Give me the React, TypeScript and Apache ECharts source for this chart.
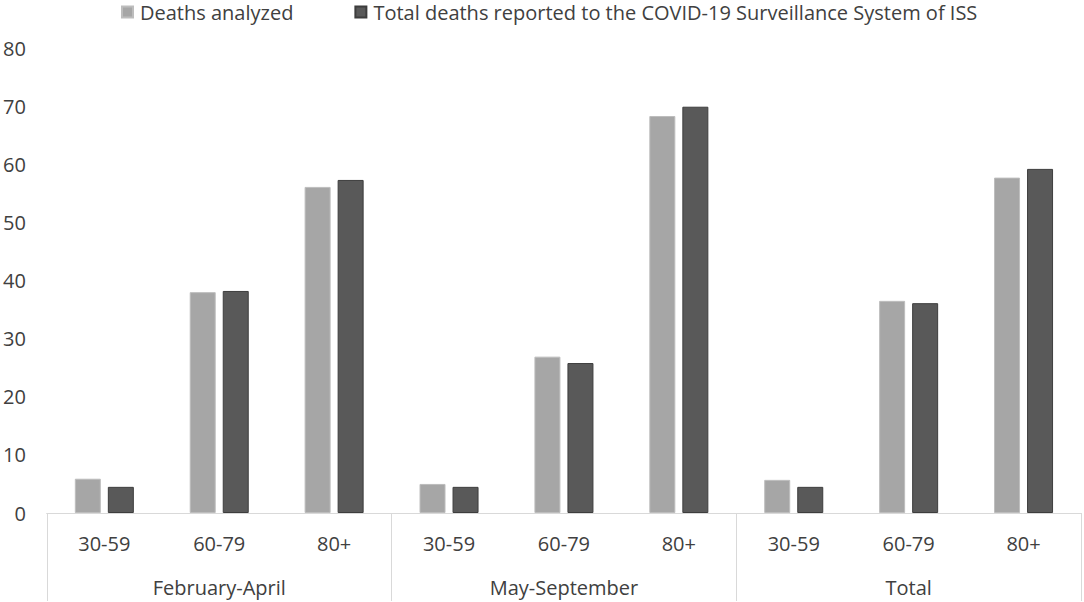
import React, { useEffect, useRef } from "react";
import * as echarts from "echarts";

const ageGroups = ["30-59", "60-79", "80+", "30-59", "60-79", "80+", "30-59", "60-79", "80+"];
const periods = ["February-April", "May-September", "Total"];
const seriesNames = ["Deaths analyzed", "Total deaths reported to the COVID-19 Surveillance System of ISS"];
const deathsAnalyzed = [5.9, 38.0, 56.1, 5.0, 26.9, 68.3, 5.7, 36.5, 57.7];
const totalDeaths = [4.5, 38.2, 57.3, 4.5, 25.8, 69.9, 4.5, 36.1, 59.2];
const yTicks = { min: 0, max: 80, interval: 10 };

const FONT = "'Open Sans', sans-serif";
const TEXT = "#404040";

export default function App() {
  const ref = useRef<HTMLDivElement>(null);
  useEffect(() => {
    if (!ref.current) return;
    const chart = echarts.init(ref.current, null, { renderer: "svg" });
    chart.setOption({
      animation: false,
      textStyle: { fontFamily: FONT },
      legend: {
        left: 116,
        top: 2,
        padding: [0, 5, 5, 5],
        itemWidth: 11,
        itemHeight: 11,
        itemGap: 61,
        icon: "rect",
        textStyle: { fontSize: 20, color: TEXT, fontFamily: FONT, padding: [0, 0, 0, 2] },
        data: seriesNames,
      },
      grid: { left: 45, right: 3, top: 48, bottom: 89, containLabel: false },
      xAxis: [
        {
          type: "category",
          data: ageGroups,
          axisLine: { show: true, lineStyle: { color: "#d9d9d9", width: 1 } },
          axisTick: { show: false },
          axisLabel: { fontSize: 20, color: TEXT, margin: 20, fontFamily: FONT },
        },
        {
          type: "category",
          data: periods,
          position: "bottom",
          axisLine: { show: true, lineStyle: { color: "#d9d9d9", width: 1 } },
          axisTick: { show: true, length: 88, lineStyle: { color: "#d9d9d9", width: 1 } },
          axisLabel: { fontSize: 20, color: TEXT, margin: 64, fontFamily: FONT },
        },
      ],
      yAxis: {
        type: "value",
        min: yTicks.min,
        max: yTicks.max,
        interval: yTicks.interval,
        splitLine: { show: false },
        axisLine: { show: false },
        axisTick: { show: false },
        axisLabel: { fontSize: 20, color: TEXT, margin: 21, fontFamily: FONT },
      },
      series: [
        {
          name: seriesNames[0],
          type: "bar",
          data: deathsAnalyzed,
          barWidth: 26,
          barGap: "27%",
          itemStyle: { color: "#a6a6a6", borderColor: "#bdbdbd", borderWidth: 1 },
        },
        {
          name: seriesNames[1],
          type: "bar",
          data: totalDeaths,
          barWidth: 26,
          barGap: "27%",
          itemStyle: { color: "#595959", borderColor: "#3d3d3d", borderWidth: 1 },
        },
      ],
    });
    return () => chart.dispose();
  }, []);
  return <div ref={ref} style={{ width: 1084, height: 602, position: "absolute", left: 0, top: 0, background: "#fff" }} />;
}
